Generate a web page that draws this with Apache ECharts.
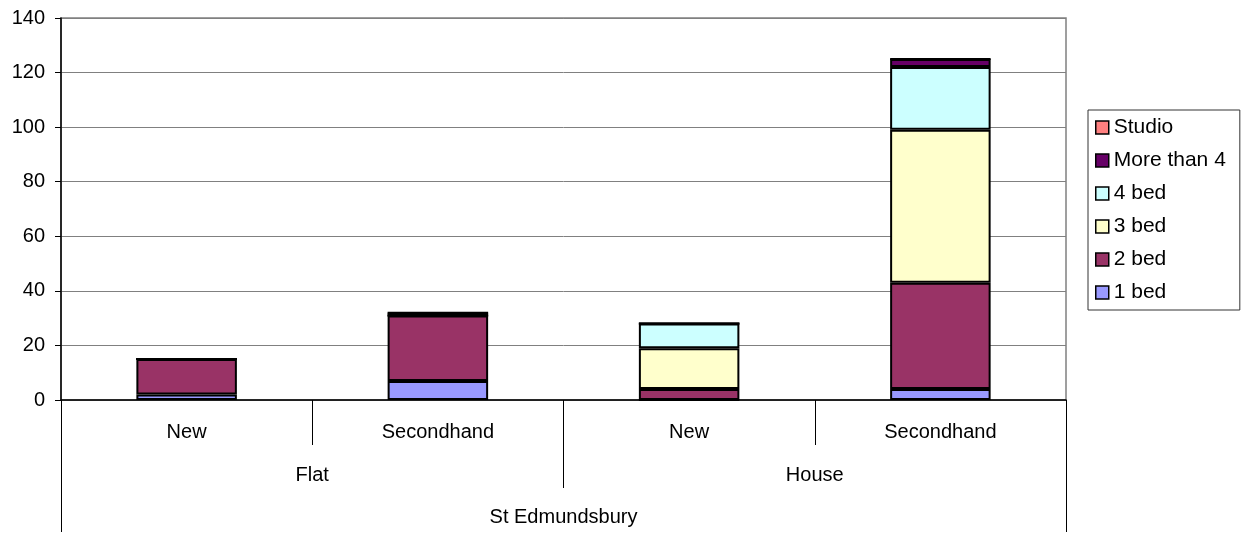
<!DOCTYPE html>
<html>
<head>
<meta charset="utf-8">
<script src="https://cdn.jsdelivr.net/npm/echarts@6/dist/echarts.min.js"></script>
<style>
html,body{margin:0;padding:0;background:#fff;}
#chart{width:1242px;height:534px;}
</style>
</head>
<body>
<div id="chart"></div>
<script>
// Data
const subCategories = ['New', 'Secondhand', 'New', 'Secondhand'];
const groupCategories = ['Flat', 'House'];
const topCategories = ['St Edmundsbury'];
const seriesNames = ['1 bed', '2 bed', '3 bed', '4 bed', 'More than 4', 'Studio'];
const oneBed = [2, 7, 0, 4];
const twoBed = [13, 24, 4, 39];
const threeBed = [0, 0, 15, 56];
const fourBed = [0, 0, 9, 23];
const moreThan4 = [0, 1, 0, 3];
const studio = [0, 0, 0, 0];
const yTicks = { min: 0, max: 140, interval: 20 };

const values = [oneBed, twoBed, threeBed, fourBed, moreThan4, studio];
const colors = ['#9999FF', '#993366', '#FFFFCC', '#CCFFFF', '#660066', '#FF8080'];
const font = 'Liberation Sans, Arial, sans-serif';
const fs = 20;

const chart = echarts.init(document.getElementById('chart'), null, { renderer: 'canvas' });

const series = seriesNames.map((name, i) => ({
  name: name,
  type: 'bar',
  stack: 'total',
  xAxisIndex: 0,
  barWidth: '40%',
  data: values[i],
  itemStyle: { color: colors[i], borderColor: '#000', borderWidth: 2 },
  emphasis: { disabled: true }
}));

chart.setOption({
  animation: false,
  textStyle: { fontFamily: font },
  grid: {
    left: 61, right: 176, top: 18, bottom: 134,
    show: true, borderColor: '#808080', borderWidth: 1.5, backgroundColor: 'transparent'
  },
  legend: {
    orient: 'vertical',
    left: 1088,
    top: 110,
    data: seriesNames.slice().reverse(),
    icon: 'rect',
    itemWidth: 13,
    itemHeight: 13,
    itemGap: 12,
    padding: [7, 14, 7, 7],
    borderColor: '#333',
    borderWidth: 1,
    itemStyle: { borderColor: '#000', borderWidth: 1.5 },
    textStyle: { fontSize: 21, color: '#000', fontFamily: font, padding: [0, 0, 0, 0] }
  },
  xAxis: [
    {
      type: 'category',
      position: 'bottom',
      data: subCategories,
      axisLine: { show: true, lineStyle: { color: '#000', width: 1.5 } },
      axisTick: { show: true, length: 45, lineStyle: { color: '#000', width: 1 } },
      axisLabel: { color: '#000', fontSize: fs, fontFamily: font, margin: 22, interval: 0 },
      splitLine: { show: false }
    },
    {
      type: 'category',
      position: 'bottom',
      offset: 0,
      data: groupCategories,
      axisLine: { show: false },
      axisTick: { show: true, length: 88, lineStyle: { color: '#000', width: 1 } },
      axisLabel: { color: '#000', fontSize: fs, fontFamily: font, margin: 65, interval: 0 },
      splitLine: { show: false }
    },
    {
      type: 'category',
      position: 'bottom',
      offset: 0,
      data: topCategories,
      axisLine: { show: false },
      axisTick: { show: true, length: 132, lineStyle: { color: '#000', width: 1 } },
      axisLabel: { color: '#000', fontSize: fs, fontFamily: font, margin: 107, interval: 0 },
      splitLine: { show: false }
    }
  ],
  yAxis: {
    type: 'value',
    min: yTicks.min,
    max: yTicks.max,
    interval: yTicks.interval,
    axisLine: { show: true, lineStyle: { color: '#000', width: 1.5 } },
    axisTick: { show: true, length: 6, lineStyle: { color: '#000' } },
    axisLabel: { color: '#000', fontSize: fs, fontFamily: font, margin: 16 },
    splitLine: { show: true, lineStyle: { color: '#808080', width: 1 } }
  },
  series: series
});
</script>
</body>
</html>
